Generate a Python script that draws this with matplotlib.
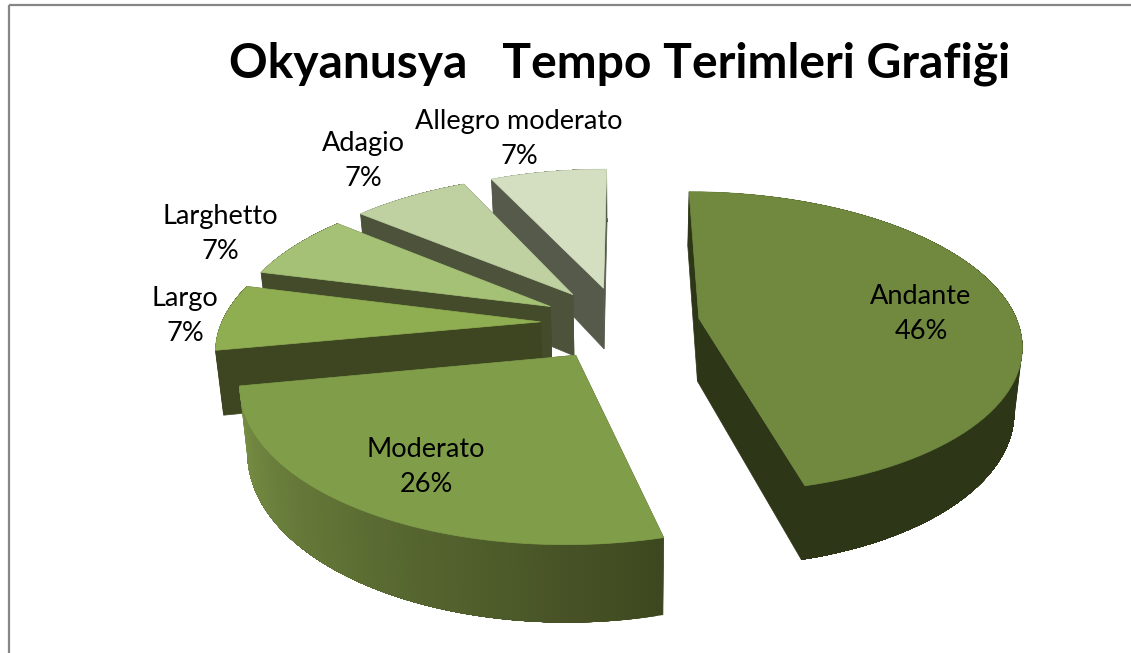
# 3D exploded pie, drawn by hand since matplotlib has no perspective pie
import numpy as np
import matplotlib.pyplot as plt
from matplotlib.patches import Polygon, Rectangle

plt.rcParams['font.family'] = ['Lato', 'DejaVu Sans']

# data
names = ["Andante", "Moderato", "Largo", "Larghetto", "Adagio", "Allegro moderato"]
values = [46, 26, 7, 7, 7, 7]

# styles
top_colors = ["#70893f", "#809e4a", "#8fae52", "#a5c176", "#bfd1a1", "#d4dfc1"]
wall_colors = ["#2e3618", "#3e4820", "#3e4621", "#444b2b", "#4d523a", "#565a4b"]
rim_from = ["#2e3618", "#3e4820", "#3e4621", "#444b2b", "#4d523a", "#565a4b"]
rim_to = ["#2e3618", "#7a9246", "#3e4621", "#444b2b", "#4d523a", "#565a4b"]
label_pos = [(921, 314), (426, 467), (185, 316), (220, 234), (363, 161), (519, 139)]
draw_order = [5, 4, 3, 2, 1, 0]

# projection parameters (pixels)
x0, y0 = 626.5, 323
rx, ry = 319, 148
k = 0.158
explode = 0.25
centre_u = -0.02
depth = 63


def project(u, v):
    s = 1 / (1 + k * v)
    return x0 + rx * u * s, y0 - ry * v * s, s


def extrude(x, y, s):
    return x0 + (x - x0) * 0.98, y + depth * s


def mix(c1, c2, t):
    a = np.array(plt.matplotlib.colors.to_rgb(c1))
    b = np.array(plt.matplotlib.colors.to_rgb(c2))
    return tuple(a + (b - a) * t)


fig = plt.figure(figsize=(11.31, 6.53), dpi=100)
ax = fig.add_axes([0, 0, 1, 1])
ax.set_xlim(0, 1131)
ax.set_ylim(653, 0)
ax.axis("off")

# chart frame
ax.add_patch(Rectangle((9, 5), 1140, 660, fill=False, edgecolor="#868686", linewidth=1.6))

edges = np.cumsum([0] + values) / sum(values) * 2 * np.pi

for i in draw_order:
    a0, a1 = edges[i], edges[i + 1]
    mid = (a0 + a1) / 2
    cu = centre_u + explode * np.sin(mid)
    cv = explode * np.cos(mid)

    t = np.linspace(a0, a1, 80)
    rim_x, rim_y, rim_s = project(cu + np.sin(t), cv + np.cos(t))
    low_x, low_y = extrude(rim_x, rim_y, rim_s)
    ax_, ay_, as_ = project(cu, cv)
    alx, aly = extrude(ax_, ay_, as_)

    # the two cut walls
    for j in [0, -1]:
        wall = [(ax_, ay_), (rim_x[j], rim_y[j]), (low_x[j], low_y[j]), (alx, aly)]
        ax.add_patch(Polygon(wall, facecolor=wall_colors[i], edgecolor=wall_colors[i], linewidth=0.5))

    # outer side, in small strips to get the shading
    # each strip runs to the far end so no seams show between them
    for j in range(len(t) - 1):
        col = mix(rim_from[i], rim_to[i], j / (len(t) - 2))
        strip = list(zip(rim_x[j:], rim_y[j:])) + list(zip(low_x[j:][::-1], low_y[j:][::-1]))
        ax.add_patch(Polygon(strip, facecolor=col, edgecolor="none"))

    # top face
    top = [(ax_, ay_)] + list(zip(rim_x, rim_y))
    ax.add_patch(Polygon(top, facecolor=top_colors[i], edgecolor=top_colors[i], linewidth=0.5))

for name, val, (lx, ly) in zip(names, values, label_pos):
    ax.text(lx, ly, f"{name}\n{val}%", ha="center", va="center", fontsize=19.5,
            color="black", linespacing=1.5)

ax.text(620, 64, "Okyanusya   Tempo Terimleri Grafiği", ha="center", va="center",
        fontsize=34.6, fontweight="bold", color="black")

fig.savefig("out.png", dpi=100)
